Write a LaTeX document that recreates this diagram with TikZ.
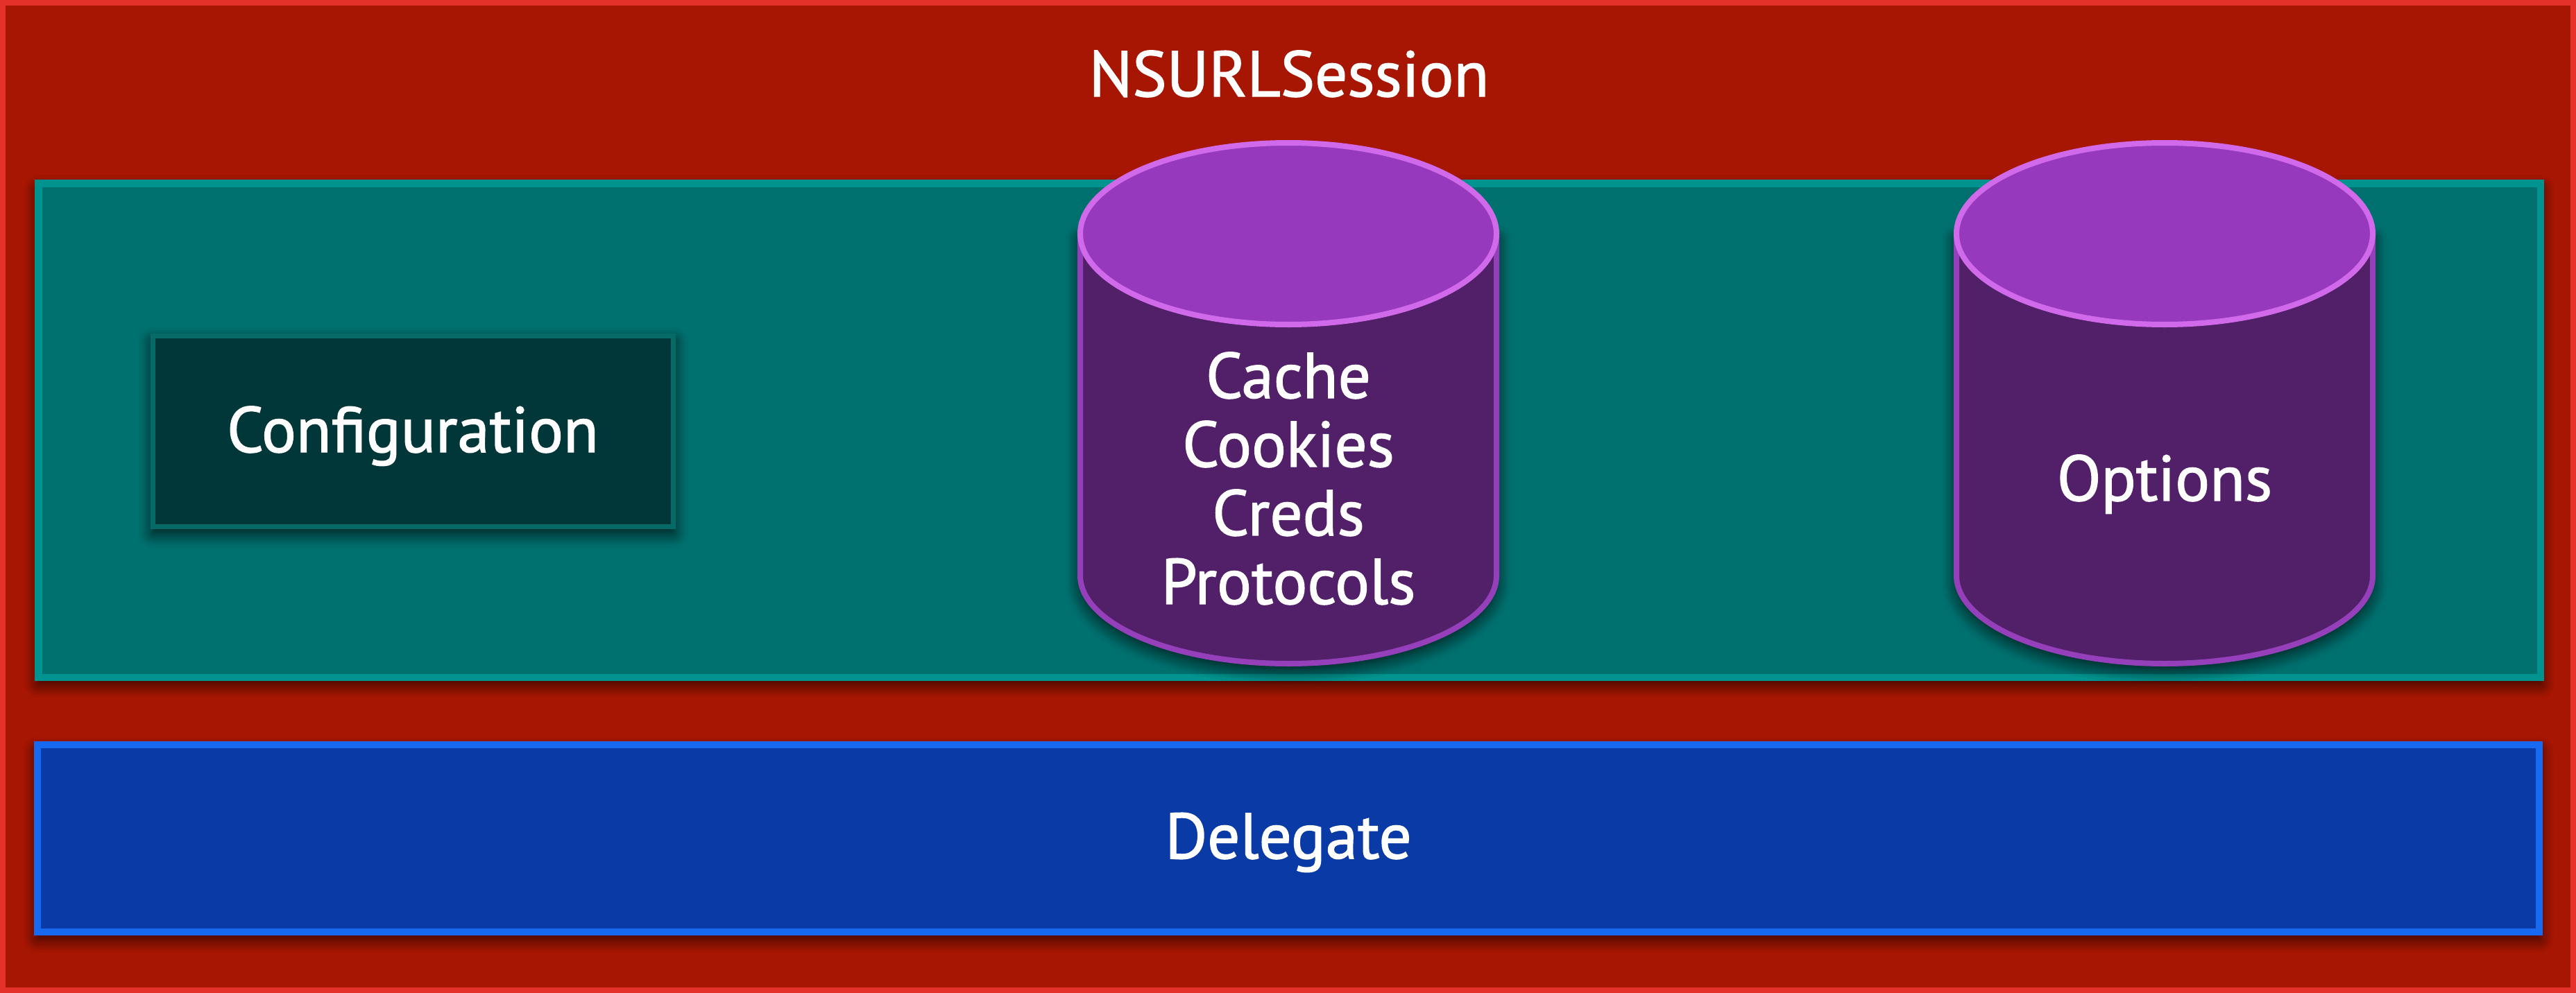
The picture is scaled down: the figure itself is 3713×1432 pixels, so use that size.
\documentclass[tikz,border=0pt]{standalone}
\usepackage{fontspec}
\setmainfont{PT Sans}
\newfontfamily\lblfont{PT Sans}[FakeBold=1.5]
\usetikzlibrary{shadows.blur}
\definecolor{redborder}{HTML}{E4322A}
\definecolor{redfill}{HTML}{A71602}
\definecolor{tealborder}{HTML}{00938F}
\definecolor{tealfill}{HTML}{00706E}
\definecolor{cfgborder}{HTML}{066A67}
\definecolor{cfgfill}{HTML}{02373A}
\definecolor{blueborder}{HTML}{176AF0}
\definecolor{bluefill}{HTML}{0A3AA6}
\definecolor{cyltopfill}{HTML}{9739BD}
\definecolor{cyltopborder}{HTML}{D16AEA}
\definecolor{cylbodyfill}{HTML}{521F69}
\definecolor{cylbodyborder}{HTML}{9540BA}
\tikzset{
  lbl/.style={text=white, font=\lblfont\fontsize{93}{99}\selectfont, inner sep=0pt, outer sep=0pt},
  panel/.style={rectangle, inner sep=0pt, outer sep=0pt},
  softshadow/.style={blur shadow={shadow xshift=0pt, shadow yshift=-9pt, shadow blur radius=20pt, shadow blur steps=14, shadow opacity=80}},
  cylbody/.style={fill=cylbodyfill, draw=cylbodyborder, line width=8pt, softshadow},
  cyltop/.style={fill=cyltopfill, draw=cyltopborder, line width=8pt},
}
\begin{document}
\begin{tikzpicture}[x=1pt,y=-1pt]
\useasboundingbox (0,0) rectangle (3713,1432);
% outer session frame
\node[panel, fill=redfill, draw=redborder, line width=8pt,
      minimum width=3705pt, minimum height=1424pt] (session) at (1856.5,716) {};
\node[lbl, anchor=base] (title) at (1858,139) {NSURLSession};
% teal area
\node[panel, fill=tealfill, draw=tealborder, line width=10.5pt, softshadow,
      minimum width=3606.5pt, minimum height=712.5pt] (area) at (1858.5,620.5) {};
% configuration
\node[panel, fill=cfgfill, draw=cfgborder, line width=7pt, softshadow,
      minimum width=750pt, minimum height=275pt] (config) at (595.5,622) {};
\node[lbl, anchor=base] (configtext) at (595,652) {Configuration};
% cylinders
\foreach \cx/\nm in {1857/store, 3120/opts}{
  \begin{scope}[shift={(\cx,0)}]
    \path[cylbody] (-300,336) -- (-300,830)
      .. controls (-300,900) and (-166,957) .. (0,957)
      .. controls (166,957) and (300,900) .. (300,830)
      -- (300,336) -- cycle;
    \path[cyltop] (0,337) ellipse [x radius=300, y radius=131];
  \end{scope}
}
\node[lbl, align=center, anchor=base] (storetext) at (1857,871)
  {Cache\\Cookies\\Creds\\Protocols};
\node[lbl, anchor=base] (optstext) at (3120,722) {Options};
% delegate
\node[panel, fill=bluefill, draw=blueborder, line width=10pt, softshadow,
      minimum width=3606pt, minimum height=270pt] (delegate) at (1857,1209) {};
\node[lbl, anchor=base] (delegatetext) at (1857,1238) {Delegate};
\end{tikzpicture}
\end{document}
